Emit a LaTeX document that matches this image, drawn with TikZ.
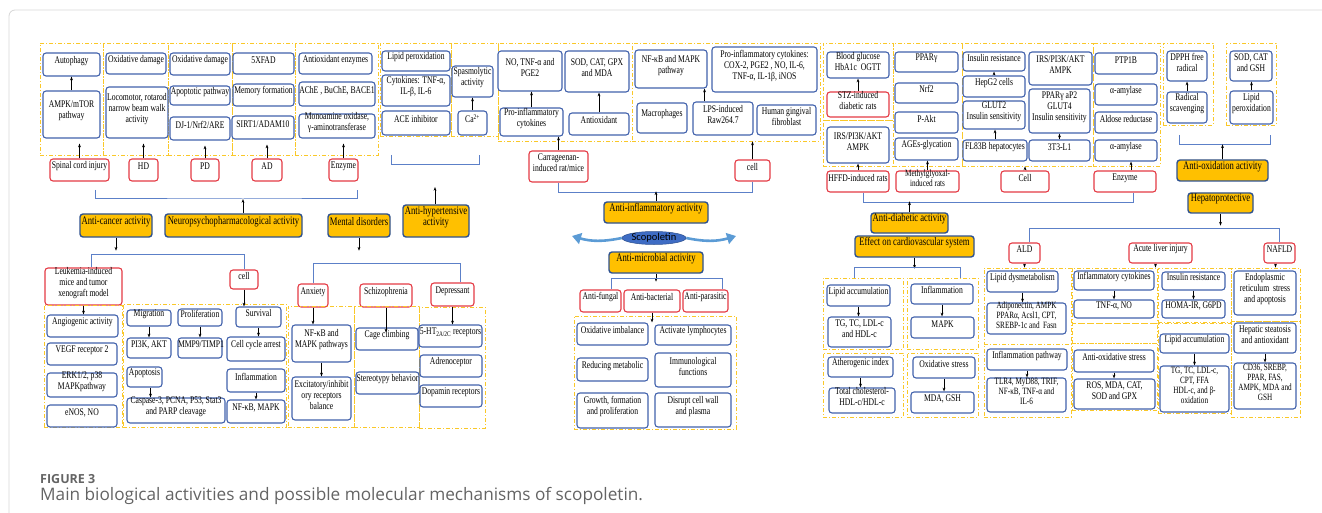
\documentclass[tikz,border=0pt]{standalone}
\usepackage{fontspec}
\setmainfont{Liberation Serif}[FakeStretch=0.75]
\newfontfamily\capfont{Open Sans}
\newfontfamily\scopfont{Carlito}
\usetikzlibrary{arrows.meta,fit,shapes.geometric}

\definecolor{boxblue}{RGB}{66,98,172}
\definecolor{boxred}{RGB}{228,58,68}
\definecolor{gold}{RGB}{255,192,0}
\definecolor{golddash}{RGB}{250,200,40}
\definecolor{navy}{RGB}{47,82,143}
\definecolor{brkblue}{RGB}{92,128,200}
\definecolor{swoosh}{RGB}{91,155,213}
\definecolor{scopblue}{RGB}{62,108,196}
\definecolor{capgray}{RGB}{100,100,100}
\definecolor{framegray}{RGB}{214,214,214}

\begin{document}
\begin{tikzpicture}[x=1pt, y=-1pt, font=\fontsize{10.2}{11}\selectfont,
                    bbox/.style = {draw=boxblue, line width=1.1pt, rounded corners=3pt, fill=white, inner sep=0pt, align=center},
                    rbox/.style = {draw=boxred, line width=1.1pt, rounded corners=3pt, fill=white, inner sep=0pt, align=center},
                    obox/.style = {draw=navy, line width=1.4pt, rounded corners=3pt, fill=gold, inner sep=0pt, align=center, font=\fontsize{11.5}{11}\selectfont},
                    frm/.style = {draw=golddash, line width=0.85pt, dash pattern=on 4pt off 2pt on 1pt off 2pt, inner sep=0pt},
                    lft/.style = {align=left},
                    tight/.style = {font=\fontsize{9.6}{10}\selectfont},
                    brk/.style = {draw=brkblue, line width=1pt},
                    arr/.style = {-{Stealth[length=3.8pt, width=2.8pt]}, line width=0.7pt}]

\useasboundingbox (0,0) rectangle (1322,513);
\draw[framegray, line width=0.8pt, rounded corners=6pt] (9,530) -- (9,10) -- (1340,10);

% neuropsychopharmacological frames
\node[frm, fit={(40,43) (103,155)}] (frN1) {};
\node[frm, fit={(103,43) (168,155)}] (frN2) {};
\node[frm, fit={(168,43) (232,155)}] (frN3) {};
\node[frm, fit={(232,43) (295,155)}] (frN4) {};
\node[frm, fit={(295,43) (378,155)}] (frN5) {};

\node[bbox, fit={(43,53) (100,76)}] (autoph) {Autophagy};
\node[bbox, lft, fit={(43,91) (100,138)}] (ampk) {AMPK/mTOR\\pathway};
\node[bbox, fit={(106,53) (166,74)}] (oxd1) {Oxidative damage};
\node[bbox, lft, fit={(106,87) (168,138)}] (loco) {Locomotor, rotarod\\narrow beam walk\\activity};
\node[bbox, fit={(170,53) (230,75)}] (oxd2) {Oxidative damage};
\node[bbox, fit={(170,86) (230,105)}] (apop) {Apoptotic pathway};
\node[bbox, fit={(170,117) (230,140)}] (dj) {DJ-1/Nrf2/ARE};
\node[bbox, fit={(233,53) (294,74)}] (xfad) {5XFAD};
\node[bbox, fit={(233,84) (294,106)}] (memf) {Memory formation};
\node[bbox, fit={(232,116) (294,139)}] (sirt) {SIRT1/ADAM10};
\node[bbox, fit={(299,53) (372,74)}] (antenz) {Antioxidant enzymes};
\node[bbox, fit={(299,82) (375,106)}] (ache) {AChE , BuChE, BACE1};
\node[bbox, lft, fit={(299,114) (375,138)}] (mao) {Monoamine oxidase,\\γ-aminotransferase};

\node[rbox, fit={(50,159) (109,181)}] (sci) {Spinal cord injury};
\node[rbox, fit={(129,159) (158,181)}] (hd) {HD};
\node[rbox, fit={(191,159) (219,181)}] (pd) {PD};
\node[rbox, fit={(252,159) (282,181)}] (ad) {AD};
\node[rbox, fit={(329,159) (358,181)}] (enz1) {Enzyme};

\draw[arr] (ampk.north) -- (ampk.north |- autoph.south);
\draw[arr] (sci.north) -- ([yshift=-5pt]sci.north |- ampk.south);
\draw[arr] (hd.north) -- ([yshift=-5pt]hd.north |- loco.south);
\draw[arr] (pd.north) -- ([yshift=-5pt]pd.north |- dj.south);
\draw[arr] (ad.north) -- ([yshift=-5pt]ad.north |- sirt.south);
\draw[arr] (enz1.north) -- ([yshift=-5pt]enz1.north |- mao.south);

\coordinate (bN) at (243,199);
\draw[brk] (95,190) |- (bN) -| (357,190);

% anti-hypertensive frames
\node[frm, fit={(380,43) (451,136)}] (frL) {};
\node[frm, fit={(451,43) (498,136)}] (frS) {};
\node[bbox, fit={(382,51) (450,71)}] (lipox) {Lipid peroxidation};
\node[bbox, lft, fit={(382,75) (450,106)}] (cyto) {Cytokines: TNF-α,\\IL-β, IL-6};
\node[bbox, fit={(382,111) (450,135)}] (ace) {ACE inhibitor};
\node[bbox, lft, fit={(452,66) (493,97)}] (spas) {Spasmolytic\\activity};
\node[bbox, fit={(458,111) (487,135)}] (ca) {Ca\textsuperscript{2+}};
\draw[arr] (ca.north) -- (ca.north |- spas.south);
\draw[brk] (391,155) |- (479,165) -- (479,155);

% orange headings, left half
\node[obox, fit={(80,214) (152,237)}] (acan) {Anti-cancer activity};
\node[obox, fit={(165,214) (302,237)}] (neuro) {Neuropsychopharmacological activity};
\node[obox, fit={(328,214) (390,237)}] (mental) {Mental disorders};
\node[obox, lft, font=\fontsize{11.5}{9.5}\selectfont, fit={(403,205) (469,237)}] (ahyp) {Anti-hypertensive\\activity};
\coordinate (ahtip) at (435,187);
\draw[arr] (neuro.north -| bN) -- (bN);
\draw[arr] (ahyp.north -| ahtip) -- (ahtip);

% anti-cancer
\node[rbox, lft, fit={(45,268) (122,305)}] (leuk) {Leukemia-induced\\mice and tumor\\xenograft model};
\node[rbox, fit={(230,270) (258,289)}] (cell3) {cell};
\draw[arr] (acan.south) -- ++(0,13);
\draw[brk] ([xshift=8pt]leuk.north) -- ++(0,-13) -| (cell3.north);

\node[frm, fit={(44,305) (122,427)}] (frK1) {};
\node[frm, fit={(123,304) (286,427)}] (frK2) {};
\node[bbox, fit={(47,315) (118,337)}] (angio) {Angiogenic activity};
\node[bbox, fit={(47,343) (117,365)}] (vegf) {VEGF receptor 2};
\node[bbox, lft, fit={(47,373) (117,397)}] (erk) {ERK1/2, p38\\MAPKpathway};
\node[bbox, fit={(47,405) (117,427)}] (enos) {eNOS, NO};
\node[bbox, fit={(127,310) (171,326)}] (migr) {Migration};
\node[bbox, fit={(127,338) (171,358)}] (pi3k) {PI3K, AKT};
\node[bbox, fit={(178,309) (222,326)}] (prolif) {Proliferation};
\node[bbox, fit={(178,338) (222,358)}] (mmp) {MMP9/TIMP1};
\node[bbox, fit={(236,307) (281,327)}] (surv) {Survival};
\node[bbox, fit={(227,337) (285,361)}] (ccarr) {Cell cycle arrest};
\node[bbox, fit={(127,367) (162,387)}] (apopt) {Apoptosis};
\node[bbox, lft, fit={(127,398) (225,423)}] (casp) {Caspase-3, PCNA, P53, Stat3\\and PARP cleavage};
\node[bbox, fit={(227,369) (285,392)}] (infl1) {Inflammation};
\node[bbox, fit={(227,400) (285,423)}] (nfk2) {NF-κB, MAPK};

\draw[arr] (leuk.south) -- (leuk.south |- angio.north);
\draw[arr] (cell3.south) -- (cell3.south |- surv.north);
\draw[arr] (migr.south) -- (migr.south |- pi3k.north);
\draw[arr] (prolif.south) -- (prolif.south |- mmp.north);
\draw[arr] (surv.south) -- (surv.south |- ccarr.north);
\draw[arr] ([xshift=6pt]apopt.south) -- ([xshift=6pt]apopt.south |- casp.north);
\draw[arr] (infl1.south) -- (infl1.south |- nfk2.north);

% mental disorders
\node[rbox, fit={(298,284) (328,307)}] (anx) {Anxiety};
\node[rbox, fit={(360,284) (412,307)}] (schiz) {Schizophrenia};
\node[rbox, fit={(431,283) (474,306)}] (depr) {Depressant};
\draw[arr] (mental.south) -- ++(0,13);
\draw[brk] (anx.north) -- ++(0,-20) -| ([xshift=8pt]depr.north);

\node[frm, fit={(288,306) (354,427)}] (frA1) {};
\node[frm, fit={(354,306) (419,427)}] (frA2) {};
\node[frm, fit={(419,307) (485,428)}] (frA3) {};
\node[bbox, lft, fit={(292,325) (351,362)}] (nfkb3) {NF-κB and\\MAPK pathways};
\node[bbox, lft, fit={(292,377) (351,420)}] (excit) {Excitatory/inhibit\\ory receptors\\balance};
\node[bbox, fit={(356,328) (418,350)}] (cage) {Cage climbing};
\node[bbox, fit={(356,372) (419,394)}] (stereo) {Stereotypy behavior};
\node[bbox, fit={(419,325) (482,347)}] (ht) {5-HT\textsubscript{2A/2C} receptors};
\node[bbox, fit={(420,355) (482,377)}] (adren) {Adrenoceptor};
\node[bbox, fit={(420,385) (482,407)}] (dopa) {Dopamin receptors};

\draw[arr] (anx.south) -- (anx.south |- nfkb3.north);
\draw[arr] (nfkb3.south) -- (nfkb3.south |- excit.north);
\draw[arr] (schiz.south) -- ([yshift=-5pt]schiz.south |- cage.north);
\draw[arr] (depr.south) -- (depr.south |- ht.north);

% anti-inflammatory
\node[frm, fit={(498,43) (632,141)}] (frI1) {};
\node[frm, fit={(632,43) (820,141)}] (frI2) {};
\node[bbox, lft, fit={(498,51) (562,91)}] (notnf) {NO, TNF-α and\\PGE2};
\node[bbox, lft, fit={(500,108) (563,136)}] (proinf) {Pro-inflammatory\\cytokines};
\node[bbox, lft, fit={(565,51) (629,92)}] (sodcat) {SOD, CAT, GPX\\and MDA};
\node[bbox, fit={(569,113) (629,135)}] (antiox) {Antioxidant};
\node[bbox, lft, fit={(635,50) (707,88)}] (nfkb1) {NF-κB and MAPK\\pathway};
\node[bbox, fit={(637,103) (687,133)}] (macro) {Macrophages};
\node[bbox, lft, fit={(712,47) (817,92)}] (proinf2) {Pro-inflammatory cytokines:\\COX-2, PGE2 , NO, IL-6,\\TNF-α, IL-1β, iNOS};
\node[bbox, lft, fit={(693,102) (753,135)}] (lps) {LPS-induced\\Raw264.7};
\node[bbox, lft, fit={(757,105) (816,135)}] (hgf) {Human gingival\\fibroblast};
\draw[arr] (proinf.north) -- (proinf.north |- notnf.south);
\draw[arr] (antiox.north) -- (antiox.north |- sodcat.south);
\draw[arr] ([xshift=-3pt]nfkb1.south east |- lps.north) -- ([xshift=-3pt]nfkb1.south east);

\node[rbox, lft, fit={(529,151) (588,182)}] (carr) {Carrageenan-\\induced rat/mice};
\node[rbox, fit={(735,160) (770,181)}] (cell1) {cell};
\draw[arr] (carr.north) -- (carr.north |- proinf.south);
\draw[arr] (cell1.north) -- (cell1.north |- frI2.south);
\draw[brk] (carr.south) -- ++(0,10) -| (cell1.south);

\node[obox, fit={(604,202) (708,223)}] (ainf) {Anti-inflammatory activity};
\draw[arr] (ainf.north) -- ++(0,-10);

\node[ellipse, fill=scopblue, draw=navy, line width=0.5pt, minimum width=64pt, minimum height=13pt, inner sep=0pt,
      font=\scopfont\fontsize{10.5}{11}\selectfont] (scop) at (654,238) {Scopoletin};
\coordinate (swl) at (572,236);
\coordinate (swr) at (736,236);
\draw[swoosh, line width=2.6pt, -{Triangle[length=9pt, width=11pt]}] (scop.west) to[bend left=14] (swl);
\draw[swoosh, line width=2.6pt, -{Triangle[length=9pt, width=11pt]}] (scop.east) to[bend right=14] (swr);

% anti-microbial
\node[obox, fit={(609,252) (703,273)}] (amic) {Anti-microbial activity};
\node[rbox, fit={(580,290) (621,312)}] (afung) {Anti-fungal};
\node[rbox, fit={(624,290) (680,312)}] (abact) {Anti-bacterial};
\node[rbox, fit={(683,290) (728,312)}] (apara) {Anti-parasitic};
\draw[arr] (amic.south) -- ++(0,8);
\draw[brk] ([xshift=11pt]afung.north) -- ++(0,-11) -| ([xshift=17pt]apara.north);

\node[frm, fit={(574,316) (736,429)}] (frM) {};
\node[bbox, fit={(577,323) (648,345)}] (oximb) {Oxidative imbalance};
\node[bbox, fit={(577,358) (648,381)}] (redmet) {Reducing metabolic};
\node[bbox, fit={(577,393) (648,428)}] (growth) {Growth, formation\\and proliferation};
\node[bbox, fit={(655,325) (731,345)}] (actly) {Activate lymphocytes};
\node[bbox, lft, fit={(655,353) (731,387)}] (immun) {Immunological\\functions};
\node[bbox, lft, fit={(655,393) (731,427)}] (disr) {Disrupt cell wall\\and plasma};
\draw[arr] (abact.south) -- (abact.south |- oximb.north);

% anti-diabetic
\node[frm, fit={(823,43) (893,120)}] (frD1) {};
\node[frm, fit={(823,120) (893,166)}] (frD2) {};
\node[frm, fit={(893,43) (962,166)}] (frD3) {};
\node[frm, fit={(962,43) (1093,166)}] (frD4) {};
\node[frm, fit={(1093,43) (1160,166)}] (frD5) {};

\node[bbox, fit={(827,52) (889,78)}] (bgluc) {Blood glucose\\HbA1c~~OGTT};
\node[rbox, fit={(827,92) (889,117)}] (stz) {STZ-induced\\diabetic rats};
\node[bbox, lft, fit={(827,127) (889,163)}] (irs1) {IRS/PI3K/AKT\\AMPK};
\node[rbox, fit={(827,171) (889,192)}] (hffd) {HFFD-induced rats};
\node[bbox, fit={(895,52) (958,72)}] (ppar) {PPARγ};
\node[bbox, fit={(895,83) (958,103)}] (nrf2) {Nrf2};
\node[bbox, fit={(895,112) (958,133)}] (pakt) {P-Akt};
\node[bbox, fit={(895,138) (958,160)}] (ages) {AGEs-glycation};
\node[rbox, tight, fit={(896,171) (959,192)}] (mgo) {Methylglyoxal-\\induced rats};
\node[bbox, fit={(963,52) (1025,71)}] (insr) {Insulin resistance};
\node[bbox, fit={(963,76) (1025,97)}] (hepg2) {HepG2 cells};
\node[bbox, lft, fit={(963,101) (1025,129)}] (glut2) {GLUT2\\Insulin sensitivity};
\node[bbox, fit={(963,140) (1027,161)}] (fl83) {FL83B hepatocytes};
\node[bbox, lft, fit={(1029,52) (1092,85)}] (irs2) {IRS/PI3K/AKT\\AMPK};
\node[bbox, lft, fit={(1029,89) (1090,133)}] (pparg) {PPARγ aP2\\GLUT4\\Insulin sensitivity};
\node[bbox, fit={(1029,140) (1090,161)}] (t3) {3T3-L1};
\node[bbox, fit={(1095,53) (1157,74)}] (ptp) {PTP1B};
\node[bbox, fit={(1095,84) (1157,105)}] (amy1) {α-amylase};
\node[bbox, fit={(1095,112) (1157,133)}] (aldo) {Aldose reductase};
\node[bbox, fit={(1095,140) (1157,161)}] (amy2) {α-amylase};
\node[rbox, fit={(1001,171) (1049,192)}] (cell2) {Cell};
\node[rbox, fit={(1094,171) (1156,192)}] (enz2) {Enzyme};

\draw[arr] (stz.north) -- (stz.north |- bgluc.south);
\draw[arr] (hffd.north) -- (hffd.north |- irs1.south);
\draw[arr] (mgo.north) -- (mgo.north |- ages.south);
\draw[arr] (hepg2.north) -- (hepg2.north |- insr.south);
\draw[arr] (fl83.north) -- (fl83.north |- glut2.south);
\draw[arr] (t3.north) -- (t3.north |- pparg.south);
\draw[arr] (cell2.north) -- (cell2.north |- frD4.south);
\draw[arr] ([xshift=6pt]enz2.north) -- ([xshift=6pt]enz2.north |- amy2.south);
\draw[brk] ([xshift=5pt]hffd.south) -- ++(0,10) -| ([xshift=8pt]enz2.south);

\node[obox, fit={(871,213) (948,233)}] (adiab) {Anti-diabetic activity};
\node[obox, fit={(855,236) (974,257)}] (cardio) {Effect on cardiovascular system};
\draw[arr] (adiab.north) -- ++(0,-11);
\draw[arr] (cardio.south) -- ++(0,11);

% cardiovascular
\node[frm, fit={(823,278) (903,349)}] (frC1) {};
\node[frm, fit={(907,278) (978,349)}] (frC2) {};
\node[frm, fit={(823,353) (903,417)}] (frC3) {};
\node[frm, fit={(907,353) (978,417)}] (frC4) {};
\draw[brk] ([xshift=32pt]frC1.north west) -- ++(0,-10) -| ([xshift=-18pt]frC2.north east);
\node[bbox, fit={(827,285) (890,306)}] (lacc1) {Lipid accumulation};
\node[bbox, lft, fit={(828,317) (891,347)}] (tgtc1) {TG, TC, LDL-c\\and HDL-c};
\node[bbox, fit={(911,284) (973,304)}] (infl2) {Inflammation};
\node[bbox, fit={(911,317) (974,338)}] (mapk2) {MAPK};
\node[bbox, fit={(828,357) (893,377)}] (athero) {Atherogenic index};
\node[bbox, fit={(829,388) (895,413)}] (totc) {Total cholesterol-\\HDL-c/HDL-c};
\node[bbox, fit={(913,357) (975,378)}] (oxst) {Oxidative stress};
\node[bbox, fit={(911,392) (974,413)}] (mdagsh) {MDA, GSH};
\draw[arr] (lacc1.south) -- (lacc1.south |- tgtc1.north);
\draw[arr] (infl2.south) -- (infl2.south |- mapk2.north);
\draw[arr] (athero.south) -- (athero.south |- totc.north);
\draw[arr] (oxst.south) -- (oxst.south |- mdagsh.north);

% anti-oxidation
\node[frm, fit={(1163,43) (1213,125)}] (frO1) {};
\node[frm, fit={(1226,43) (1276,125)}] (frO2) {};
\node[bbox, lft, fit={(1167,51) (1207,81)}] (dpph) {DPPH free\\radical};
\node[bbox, lft, fit={(1167,92) (1207,123)}] (radsc) {Radical\\scavenging};
\node[bbox, lft, fit={(1230,51) (1272,81)}] (sodg) {SOD, CAT\\and GSH};
\node[bbox, lft, fit={(1230,91) (1273,124)}] (lipox2) {Lipid\\peroxidation};
\draw[arr] (radsc.north) -- (radsc.north |- dpph.south);
\draw[arr] (lipox2.north) -- (lipox2.north |- sodg.south);
\draw[brk] (1179,135) |- (1270,145) -- (1270,135);

\node[obox, fit={(1177,160) (1268,181)}] (aoxid) {Anti-oxidation activity};
\node[obox, fit={(1188,193) (1253,213)}] (hepat) {Hepatoprotective};
\draw[arr] (aoxid.north) -- ++(0,-15);
\draw[arr] (hepat.south) -- ++(0,12);

% hepatoprotective
\node[rbox, fit={(1009,243) (1040,263)}] (ald) {ALD};
\node[rbox, fit={(1129,243) (1192,263)}] (acute) {Acute liver injury};
\node[rbox, fit={(1264,243) (1295,263)}] (nafld) {NAFLD};
\draw[brk] ([xshift=5pt]ald.north) -- ++(0,-14) -| (nafld.north);

\node[frm, fit={(984,268) (1071,344)}] (frH1) {};
\node[frm, fit={(984,344) (1071,417)}] (frH2) {};
\node[frm, fit={(1072,268) (1157,323)}] (frH3) {};
\node[frm, fit={(1072,323) (1157,343)}] (frH4) {};
\node[frm, fit={(1072,343) (1157,410)}] (frH5) {};
\node[frm, fit={(1158,268) (1231,322)}] (frH6) {};
\node[frm, fit={(1158,323) (1231,413)}] (frH7) {};
\node[frm, fit={(1231,268) (1300,321)}] (frH8) {};
\node[frm, fit={(1231,321) (1300,417)}] (frH9) {};

\node[bbox, fit={(987,271) (1058,292)}] (lipdys) {Lipid dysmetabolism};
\node[bbox, lft, tight, fit={(987,303) (1066,334)}] (adipo) {Adiponectin, AMPK\\PPARα, Acsl1, CPT,\\SREBP-1c and~~Fasn};
\node[bbox, fit={(987,349) (1067,370)}] (inflp) {Inflammation pathway};
\node[bbox, lft, tight, fit={(987,378) (1066,412)}] (tlr4) {TLR4, MyD88, TRIF,\\NF-κB, TNF-α and\\IL-6};
\node[bbox, fit={(1074,271) (1154,290)}] (inflc) {Inflammatory cytokines};
\node[bbox, fit={(1074,300) (1154,318)}] (tnfno) {TNF-α, NO};
\node[bbox, fit={(1074,350) (1154,372)}] (aoxs) {Anti-oxidative stress};
\node[bbox, lft, fit={(1074,379) (1155,409)}] (ros) {ROS, MDA, CAT,\\SOD and GPX};
\node[bbox, fit={(1162,272) (1225,290)}] (insr2) {Insulin resistance};
\node[bbox, fit={(1162,300) (1225,318)}] (homa) {HOMA-IR, G6PD};
\node[bbox, fit={(1160,334) (1229,353)}] (lacc2) {Lipid accumulation};
\node[bbox, lft, tight, fit={(1160,366) (1229,412)}] (tgtc2) {TG, TC, LDL-c,\\CPT, FFA\\HDL-c, and β-\\oxidation};
\node[bbox, lft, fit={(1234,271) (1296,315)}] (endo) {Endoplasmic\\reticulum~~stress\\and apoptosis};
\node[bbox, lft, fit={(1234,323) (1296,353)}] (hepst) {Hepatic steatosis\\and antioxidant};
\node[bbox, lft, tight, fit={(1234,363) (1296,409)}] (cd36) {CD36, SREBP,\\PPAR, FAS,\\AMPK, MDA and\\GSH};

\draw[arr] (ald.south) -- (ald.south |- frH1.north);
\draw[arr] ([xshift=-5pt]acute.south) -- ([xshift=-5pt]acute.south |- frH3.north);
\draw[arr] ([xshift=-4pt]nafld.south) -- ([xshift=-4pt]nafld.south |- frH8.north);
\draw[arr] (lipdys.south) -- (lipdys.south |- adipo.north);
\draw[arr] (inflp.south) -- (inflp.south |- tlr4.north);
\draw[arr] (inflc.south) -- (inflc.south |- tnfno.north);
\draw[arr] (aoxs.south) -- (aoxs.south |- ros.north);
\draw[arr] (insr2.south) -- (insr2.south |- homa.north);
\draw[arr] (lacc2.south) -- (lacc2.south |- tgtc2.north);
\draw[arr] (hepst.south) -- (hepst.south |- cd36.north);

% caption
\node[anchor=base west, inner sep=0pt, text=capgray, font=\capfont\bfseries\fontsize{12.5}{13}\selectfont] (fig) at (40,483) {FIGURE 3};
\node[anchor=base west, inner sep=0pt, text=capgray, font=\capfont\fontsize{17.2}{18}\selectfont] (cap) at (40,500) {Main biological activities and possible molecular mechanisms of scopoletin.};
\end{tikzpicture}
\end{document}
